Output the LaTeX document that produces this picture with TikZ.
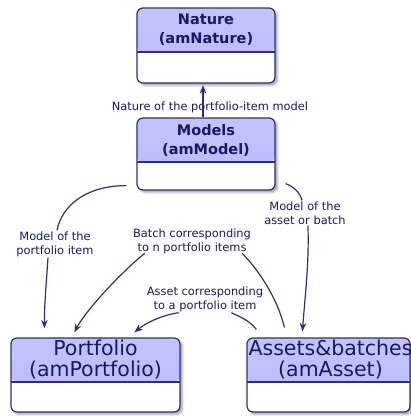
\documentclass[tikz,border=0pt]{standalone}
\usepackage{fontspec}
\setmainfont{DejaVu Sans}
\usetikzlibrary{shadows.blur,arrows.meta,calc}
\definecolor{navy}{RGB}{44,44,130}
\definecolor{ink}{RGB}{24,24,104}
\definecolor{lav}{RGB}{184,184,248}
\definecolor{lavtop}{RGB}{196,196,252}
\tikzset{
  tbl/.style={draw=navy, line width=1.2pt, rounded corners=6pt, fill=white, inner sep=0pt,
    blur shadow={shadow xshift=2.5pt, shadow yshift=-2.5pt, shadow blur steps=4, shadow opacity=35},
    path picture={
      \shade[top color=lavtop, bottom color=lav] (path picture bounding box.north west) rectangle ($(path picture bounding box.north east)+(0,-44pt)$);
      \draw[navy, line width=1.2pt] ($(path picture bounding box.north west)+(0,-44pt)$) -- ($(path picture bounding box.north east)+(0,-44pt)$);
    }},
  ttl/.style={text=ink, align=center, inner sep=0pt, font=\bfseries\fontsize{14.5}{19}\selectfont},
  bigttl/.style={text=ink, align=center, inner sep=0pt, font=\fontsize{20.5}{21}\selectfont},
  lbl/.style={text=ink, align=center, inner sep=1pt, font=\fontsize{11.4}{14}\selectfont},
  conn/.style={draw=navy, line width=1.2pt},
  arr/.style={-{Stealth[length=8.5pt,width=6.5pt]}}
}
\begin{document}
\begin{tikzpicture}[x=1pt,y=-1pt]
\useasboundingbox (0,0) rectangle (411,416);

% boxes
\node[tbl, minimum width=138pt, minimum height=75pt] (nature) at (206,45.5) {};
\node[tbl, minimum width=138pt, minimum height=72pt] (models) at (206,154) {};
\node[tbl, minimum width=169pt, minimum height=74pt] (portfolio) at (95.5,375) {};
\node[tbl, minimum width=163pt, minimum height=74pt] (assets) at (328.5,375) {};

% titles
\node[ttl] (natureT) at (206,29.5) {Nature\\(amNature)};
\node[ttl] (modelsT) at (206,140.5) {Models\\(amModel)};
\node[bigttl] (portfolioT) at (95.5,360) {Portfolio\\(amPortfolio)};
\node[bigttl] (assetsT) at (330.5,360) {Assets\&batches\\(amAsset)};

% labels
\node[lbl] (lblN) at (210,107) {Nature of the portfolio-item model};
\node[lbl] (lblMP) at (55,244) {Model of the\\portfolio item};
\node[lbl] (lblMA) at (305,213) {Model of the\\asset or batch};
\node[lbl] (lblB) at (192,241.5) {Batch corresponding\\to n portfolio items};
\node[lbl] (lblA) at (205,299) {Asset corresponding\\to a portfolio item};

% connectors
\draw[conn,arr] ([xshift=-3pt]models.north) -- ([xshift=-3pt,yshift=-1.5pt]nature.south);

\draw[conn] ([shift={(-10pt,5pt)}]models.south west) .. controls +(-40,0) and +(5,-25) .. ([xshift=2pt]lblMP.north);
\draw[conn,arr] ([xshift=-7pt]lblMP.south) .. controls +(-2,30) and +(0,-25) .. ([shift={(34pt,9pt)}]portfolio.north west);

\draw[conn] ([shift={(10pt,7pt)}]models.south east) .. controls +(8,3) and +(-2,-8) .. ([xshift=-3pt]lblMA.north);
\draw[conn,arr] ([xshift=3pt]lblMA.south) .. controls +(1,40) and +(3,-40) .. ([shift={(56pt,6pt)}]assets.north west);

\draw[conn] ([shift={(38pt,10pt)}]assets.north west) .. controls +(-7,-30) and +(15,15) .. ([shift={(-10pt,2pt)}]lblB.south east);
\draw[conn,arr] ([shift={(13pt,2pt)}]lblB.south west) .. controls +(-25,20) and +(10,-20) .. ([shift={(64pt,5pt)}]portfolio.north west);

\draw[conn] ([shift={(10pt,8pt)}]assets.north west) .. controls +(-8,-10) and +(8,4) .. ([shift={(-33pt,0pt)}]lblA.south east);
\draw[conn,arr] ([shift={(33pt,0pt)}]lblA.south west) .. controls +(-15,2) and +(12,-10) .. ([shift={(124pt,5pt)}]portfolio.north west);
\end{tikzpicture}
\end{document}
